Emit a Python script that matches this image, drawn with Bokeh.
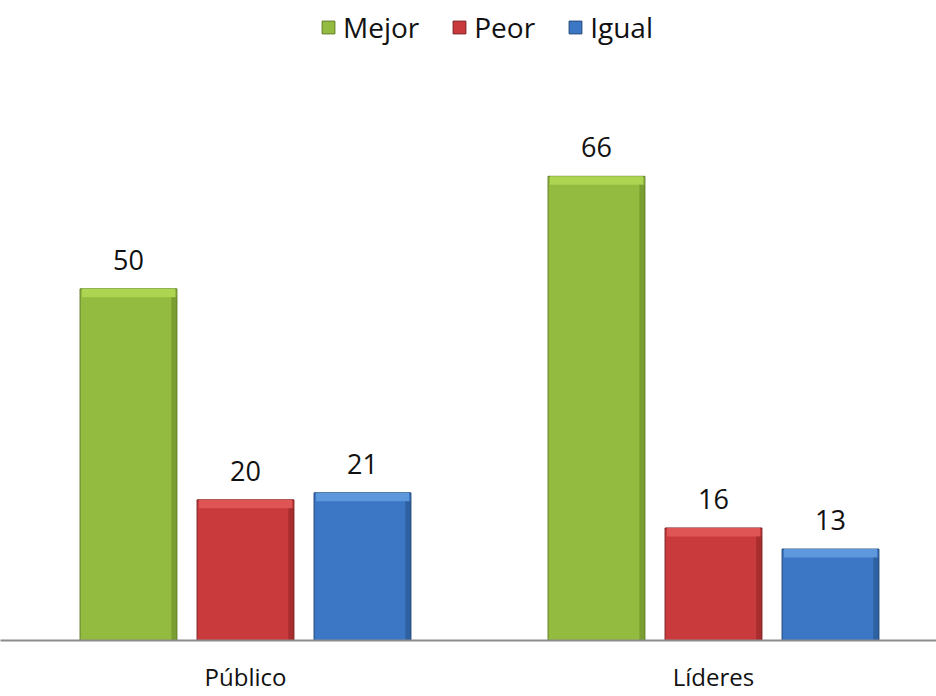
from bokeh.plotting import figure
from bokeh.models import ColumnDataSource, Range1d, FixedTicker, Legend, LegendItem
from bokeh.transform import dodge
from bokeh.core.properties import value
from bokeh.embed import file_html
from bokeh.resources import INLINE

categories = ["Público", "Líderes"]
series = ["Mejor", "Peor", "Igual"]
mejor = [50, 66]
peor = [20, 16]
igual = [21, 13]

colors_main = {"Mejor": "#93bb3f", "Peor": "#c83a3c", "Igual": "#3b77c4"}
colors_light = {"Mejor": "#add552", "Peor": "#df5556", "Igual": "#5e98dc"}
colors_dark = {"Mejor": "#5f7d23", "Peor": "#7e1f1f", "Igual": "#1f4677"}
offsets = {"Mejor": -0.25, "Peor": 0.0, "Igual": 0.25}
values_by = {"Mejor": mejor, "Peor": peor, "Igual": igual}

FONT = "Open Sans"

p = figure(width=936, height=696, output_backend="svg", toolbar_location=None,
           x_range=Range1d(-0.5235, 1.4765), y_range=Range1d(0, 91.0),
           min_border_left=0, min_border_right=0, min_border_top=0, min_border_bottom=56)
p.outline_line_color = None
p.border_fill_color = "white"
p.background_fill_color = "white"
p.xgrid.visible = False
p.ygrid.visible = False
p.yaxis.visible = False

xs = list(range(len(categories)))
bar_w = 0.207
items = []
for s in series:
    vals = values_by[s]
    src = ColumnDataSource(dict(
        x=xs, top=vals, band=[v - 1.2 for v in vals],
        label=[str(v) for v in vals]))
    xd = dodge("x", offsets[s], range=p.x_range)
    r = p.vbar(x=xd, top="top", bottom=0, width=bar_w, source=src,
               fill_color=colors_main[s], line_color=colors_dark[s], line_width=1)
    # bevel highlight at the top of each bar
    p.vbar(x=xd, top="top", bottom="band", width=bar_w * 0.96, source=src,
           fill_color=colors_light[s], line_color=None)
    # darker right edge
    p.vbar(x=dodge("x", offsets[s] + bar_w / 2 - 0.006, range=p.x_range),
           top="band", bottom=0, width=0.012, source=src,
           fill_color=colors_dark[s], fill_alpha=0.45, line_color=None)
    p.text(x=xd, y="top", text="label", source=src, y_offset=-19,
           text_align="center", text_baseline="bottom",
           text_font=value(FONT), text_font_size="27px", text_color="#111111")
    items.append(LegendItem(label=s, renderers=[r]))

p.xaxis.ticker = FixedTicker(ticks=xs)
p.xaxis.major_label_overrides = {i: c for i, c in enumerate(categories)}
p.xaxis.major_tick_line_color = None
p.xaxis.minor_tick_line_color = None
p.xaxis.major_tick_out = 0
p.xaxis.major_tick_in = 0
p.xaxis.major_label_standoff = 19
p.xaxis.axis_line_color = "#8c8c8c"
p.xaxis.axis_line_width = 2
p.xaxis.major_label_text_font = FONT
p.xaxis.major_label_text_font_size = "24px"
p.xaxis.major_label_text_color = "#111111"

legend = Legend(items=items, orientation="horizontal", location=(320, 594),
                glyph_width=16, glyph_height=16, label_standoff=7, spacing=32,
                padding=0, margin=0, border_line_color=None, background_fill_alpha=0,
                label_text_font=FONT, label_text_font_size="28px",
                label_text_color="#111111")
p.add_layout(legend, "center")

open("out.html", "w").write(file_html(p, INLINE))
